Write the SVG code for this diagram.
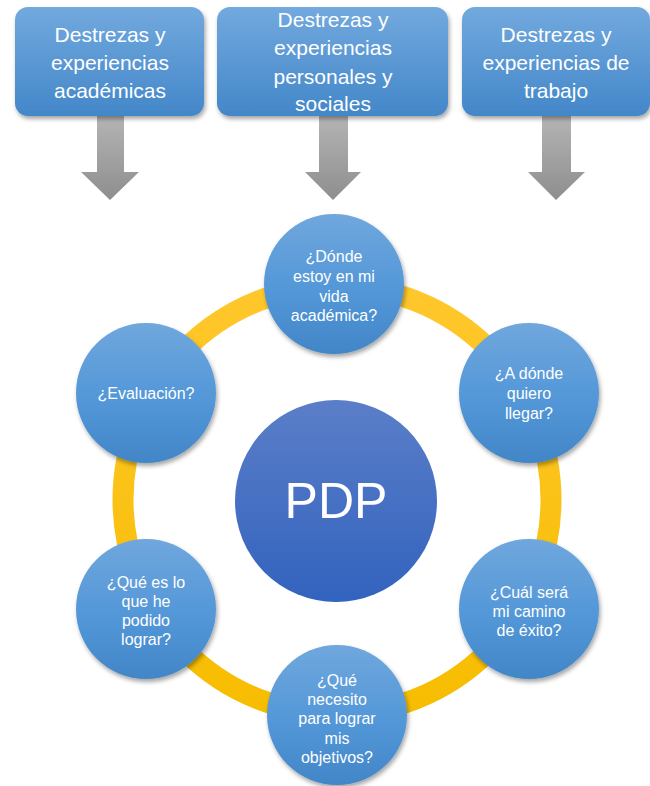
<svg xmlns="http://www.w3.org/2000/svg" width="650" height="786" viewBox="0 0 650 786">
<defs>
<linearGradient id="gBox" x1="0" y1="0" x2="0" y2="1"><stop offset="0" stop-color="#72a9de"/><stop offset="1" stop-color="#4387c9"/></linearGradient>
<linearGradient id="gCir" x1="0" y1="0" x2="0" y2="1"><stop offset="0" stop-color="#70a7dd"/><stop offset="0.55" stop-color="#5397d8"/><stop offset="1" stop-color="#4286c7"/></linearGradient>
<linearGradient id="gPdp" x1="0" y1="0" x2="0" y2="1"><stop offset="0" stop-color="#5b7ec8"/><stop offset="1" stop-color="#3263be"/></linearGradient>
<linearGradient id="gArr" x1="0" y1="0" x2="0" y2="1"><stop offset="0" stop-color="#b4b4b4"/><stop offset="1" stop-color="#8e8e8e"/></linearGradient>
<linearGradient id="gRing" x1="0" y1="0" x2="0" y2="1"><stop offset="0" stop-color="#ffc72c"/><stop offset="1" stop-color="#f6bd00"/></linearGradient>
<filter id="sh" x="-20%" y="-20%" width="140%" height="140%"><feDropShadow dx="1.5" dy="3" stdDeviation="2.2" flood-color="#000" flood-opacity="0.35"/></filter>
</defs>
<style>
.box{fill:url(#gBox);filter:url(#sh)}
.cir{fill:url(#gCir);filter:url(#sh)}
.bt{font-family:"Liberation Sans",Arial,sans-serif;font-size:21px;fill:#fff;text-anchor:middle}
.ct{font-family:"Liberation Sans",Arial,sans-serif;font-size:16px;fill:#fff;text-anchor:middle}
.arr{fill:url(#gArr)}
</style>
<g id="connectors">
<circle cx="337" cy="500" r="214" fill="none" stroke="url(#gRing)" stroke-width="21"/>
<path class="arr" d="M97,116 H124 V172 H139 L110,200 L81,172 H97 Z"/>
<path class="arr" d="M319,116 H348 V172 H361 L333,200 L305,172 H319 Z"/>
<path class="arr" d="M542,116 H571 V172 H585 L556,200 L528,172 H542 Z"/>
</g>
<g id="box1"><rect class="box" x="15" y="7" width="189" height="109" rx="13"/>
<text class="bt" x="110" y="42">Destrezas y</text><text class="bt" x="110" y="70">experiencias</text><text class="bt" x="110" y="98">académicas</text></g>
<g id="box2"><rect class="box" x="217" y="7" width="231" height="109" rx="13"/>
<text class="bt" x="333" y="27">Destrezas y</text><text class="bt" x="333" y="55">experiencias</text><text class="bt" x="333" y="84">personales y</text><text class="bt" x="333" y="111">sociales</text></g>
<g id="box3"><rect class="box" x="462" y="7" width="188" height="109" rx="13"/>
<text class="bt" x="556" y="42">Destrezas y</text><text class="bt" x="556" y="70">experiencias de</text><text class="bt" x="556" y="98">trabajo</text></g>
<g id="pdp"><circle cx="336" cy="501" r="101" fill="url(#gPdp)"/>
<text x="336" y="518" font-family="'Liberation Sans',Arial,sans-serif" font-size="50" fill="#fff" text-anchor="middle">PDP</text></g>
<g id="n-top"><circle class="cir" cx="334" cy="284" r="70"/>
<text class="ct" x="334" y="262">¿Dónde</text><text class="ct" x="334" y="282">estoy en mi</text><text class="ct" x="334" y="302">vida</text><text class="ct" x="334" y="321">académica?</text></g>
<g id="n-right"><circle class="cir" cx="529" cy="393" r="70"/>
<text class="ct" x="529" y="379">¿A dónde</text><text class="ct" x="529" y="399">quiero</text><text class="ct" x="529" y="419">llegar?</text></g>
<g id="n-bright"><circle class="cir" cx="529" cy="609" r="70"/>
<text class="ct" x="529" y="598">¿Cuál será</text><text class="ct" x="529" y="617">mi camino</text><text class="ct" x="529" y="636">de éxito?</text></g>
<g id="n-bottom"><circle class="cir" cx="337" cy="715" r="70"/>
<text class="ct" x="337" y="686">¿Qué</text><text class="ct" x="337" y="705">necesito</text><text class="ct" x="337" y="724">para lograr</text><text class="ct" x="337" y="744">mis</text><text class="ct" x="337" y="763">objetivos?</text></g>
<g id="n-bleft"><circle class="cir" cx="146" cy="609" r="70"/>
<text class="ct" x="146" y="588">¿Qué es lo</text><text class="ct" x="146" y="607">que he</text><text class="ct" x="146" y="626">podido</text><text class="ct" x="146" y="645">lograr?</text></g>
<g id="n-left"><circle class="cir" cx="146" cy="393" r="70"/>
<text class="ct" x="146" y="399">¿Evaluación?</text></g>
</svg>
